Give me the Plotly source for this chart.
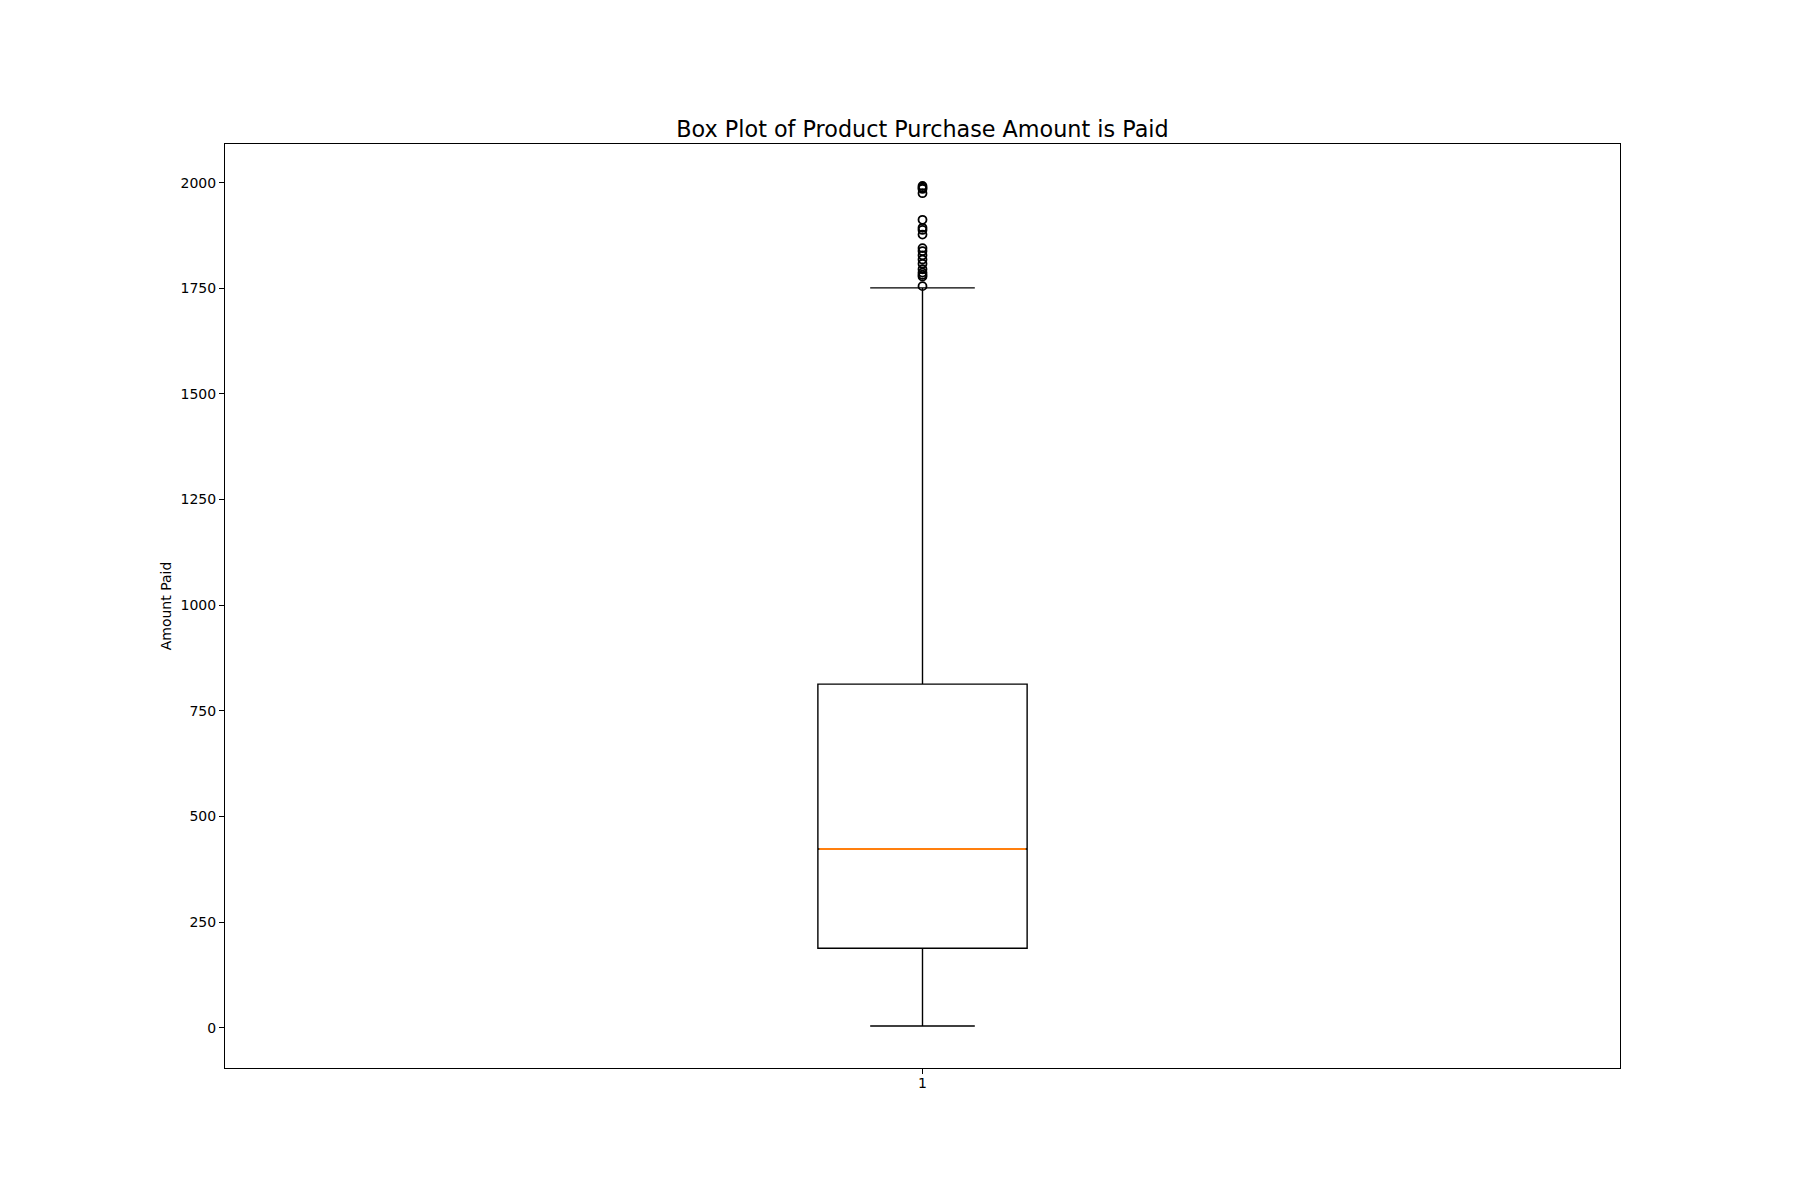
import plotly.graph_objects as go

# Data
positions = [1]
q1_vals = [188]
median_vals = [423]
q3_vals = [813]
lower_whisker = [4]
upper_whisker = [1751]
outliers = [1992, 1988, 1985, 1975, 1912, 1893, 1888, 1877, 1845, 1838,
            1828, 1818, 1808, 1795, 1787, 1782, 1778, 1755]
x_tick_labels = ["1"]
y_ticks = [0, 250, 500, 750, 1000, 1250, 1500, 1750, 2000]

box_width = 0.15
FONT = "DejaVu Sans"

fig = go.Figure()

fig.add_trace(go.Box(
    x=positions,
    q1=q1_vals, median=median_vals, q3=q3_vals,
    lowerfence=lower_whisker, upperfence=upper_whisker,
    width=box_width,
    whiskerwidth=0.5,
    boxpoints=False,
    line=dict(color="black", width=1.4),
    fillcolor="rgba(255,255,255,0)",
    showlegend=False,
    hoverinfo="skip",
))

# Median line in orange (matplotlib style)
for p, m in zip(positions, median_vals):
    fig.add_trace(go.Scatter(
        x=[p - box_width / 2 + 0.001, p + box_width / 2 - 0.001],
        y=[m, m],
        mode="lines",
        line=dict(color="#ff7f0e", width=2),
        showlegend=False,
        hoverinfo="skip",
    ))

# Outliers
fig.add_trace(go.Scatter(
    x=[positions[0]] * len(outliers),
    y=outliers,
    mode="markers",
    marker=dict(symbol="circle-open", size=8, color="black",
                line=dict(color="black", width=1.8)),
    showlegend=False,
    hoverinfo="skip",
))

ymin = min(lower_whisker + outliers)
ymax = max(upper_whisker + outliers)
pad = 0.05 * (ymax - ymin)

fig.update_layout(
    width=1800, height=1200,
    margin=dict(l=225, r=180, t=144, b=132),
    paper_bgcolor="white", plot_bgcolor="white",
    font=dict(family=FONT, size=14, color="black"),
    title=dict(
        text="Box Plot of Product Purchase Amount is Paid",
        font=dict(family=FONT, size=22.3, color="black"),
        x=0.5, xref="paper", xanchor="center",
        y=(1200 - 136.5) / 1200, yref="container", yanchor="bottom",
    ),
    xaxis=dict(
        range=[0.5, 1.5],
        tickvals=positions, ticktext=x_tick_labels,
        showgrid=False, zeroline=False,
        showline=True, linecolor="black", linewidth=1.1, mirror=True,
        ticks="outside", ticklen=5, tickwidth=1.1, tickcolor="black",
        ticklabelstandoff=-3,
        tickfont=dict(family=FONT, size=14, color="black"),
    ),
    yaxis=dict(
        range=[ymin - pad, ymax + pad],
        tickvals=y_ticks,
        showgrid=False, zeroline=False,
        showline=True, linecolor="black", linewidth=1.1, mirror=True,
        ticks="outside", ticklen=5, tickwidth=1.1, tickcolor="black",
        tickfont=dict(family=FONT, size=14, color="black"),
        title=dict(text="Amount Paid", font=dict(family=FONT, size=14, color="black"),
                   standoff=5),
    ),
)

fig.write_html("out.html")
